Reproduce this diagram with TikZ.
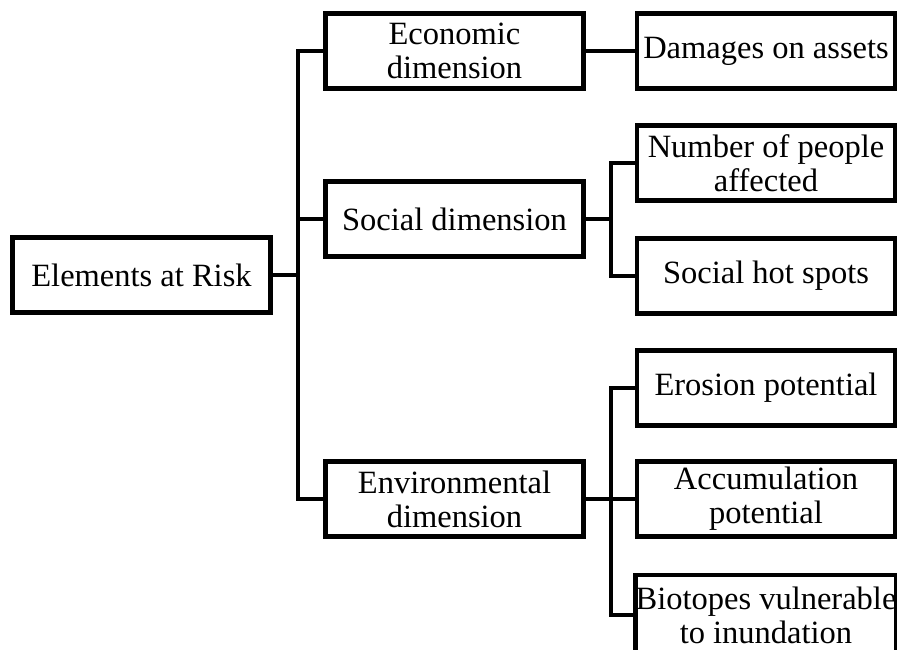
\documentclass[tikz,border=0pt]{standalone}
\usepackage{fontspec}
\setmainfont{Liberation Serif}
\begin{document}
\begin{tikzpicture}[x=1pt,y=-1pt,
		box/.style={draw,line width=4.6pt,minimum width=258pt,minimum height=75pt,inner xsep=0pt,inner ysep=2pt,align=center,font=\fontsize{32.5}{34}\selectfont},
		link/.style={line width=4.6pt}]
			\useasboundingbox (0,0) rectangle (897,650);
			\clip (0,0) rectangle (897,650);

			\node [box] (root) at (141.5, 275) {Elements at Risk};

			\node [box] (eco)  at (454.5,  51) {Economic\\dimension};
			\node [box] (soc)  at (454.5, 219) {Social dimension};
			\node [box] (env)  at (454.5, 499) {Environmental\\dimension};

			\node [box] (dam)  at (766  ,  51) {Damages on assets};
			\node [box] (num)  at (766  , 163) {Number of people\\affected};
			\node [box] (hot)  at (766  , 276) {Social hot spots};
			\node [box] (ero)  at (766  , 388) {Erosion potential};
			\node [box] (acc)  at (766  , 499) {Accumulation\\potential};
			\node [box,minimum height=80pt] (bio) at (766, 615) {Biotopes vulnerable\\to inundation};

			\draw [link] (root.east) -- ++(25,0) |- (eco.west);
			\draw [link] (root.east) -- ++(25,0) |- (soc.west);
			\draw [link] (root.east) -- ++(25,0) |- (env.west);

			\draw [link] (eco.east) -- (dam.west);

			\draw [link] (soc.east) -- ++(25,0) |- (num.west);
			\draw [link] (soc.east) -- ++(25,0) |- (hot.west);

			\draw [link] (env.east) -- ++(25,0) |- (ero.west);
			\draw [link] (env.east) -- (acc.west);
			\draw [link] (env.east) -- ++(25,0) |- (bio.west);
		\end{tikzpicture}
\end{document}
